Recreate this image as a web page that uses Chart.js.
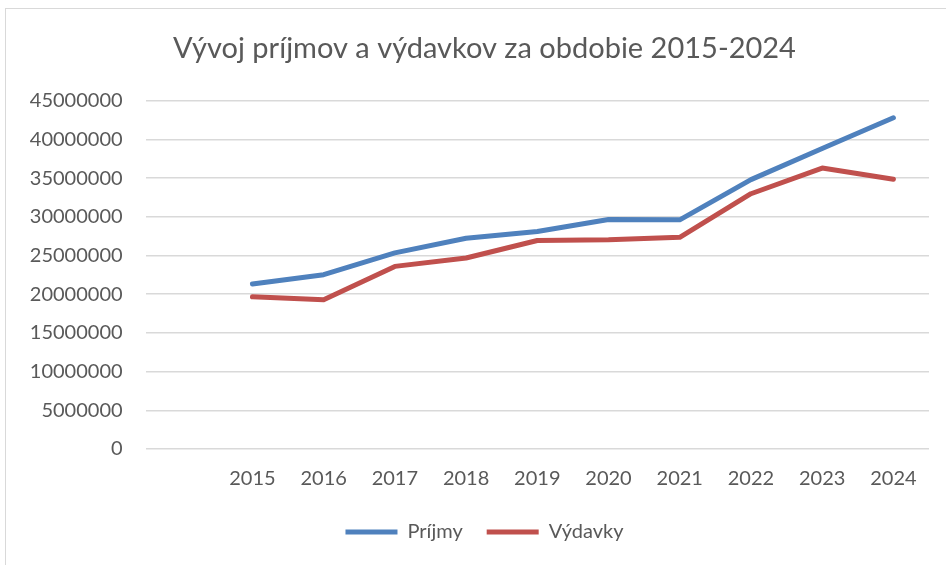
<!DOCTYPE html>
<html>
<head>
<meta charset="utf-8">
<script src="https://cdn.jsdelivr.net/npm/chart.js@4"></script>
<style>
  body { margin: 0; background: #fff; overflow: hidden; }
  #wrap { position: relative; width: 946px; height: 565px; overflow: hidden; }
  #frame { position: absolute; left: 5px; top: 8px; width: 980px; height: 600px; border: 1.5px solid #d9d9d9; }
  canvas { position: absolute; left: 0; top: 0; }
</style>
</head>
<body>
<div id="wrap">
  <div id="frame"></div>
  <canvas id="myChart" width="946" height="565"></canvas>
</div>
<script>
// roky (prvá kategória je prázdna ako v originálnom grafe)
const years = ['', '2015', '2016', '2017', '2018', '2019', '2020', '2021', '2022', '2023', '2024'];
const prijmy = [null, 21320000, 22530000, 25340000, 27230000, 28100000, 29660000, 29620000, 34810000, 38830000, 42800000];
const vydavky = [null, 19670000, 19280000, 23600000, 24690000, 26940000, 27030000, 27360000, 32990000, 36310000, 34850000];

const textColor = '#595959';
const fontFamily = 'Lato, "Open Sans", sans-serif';

// nadpis a legenda su v Exceli centrovane na celu plochu grafu, nie od lavej hrany
const centerBoxes = {
    id: 'centerBoxes',
    afterLayout: function (chart) {
        chart.titleBlock.left = 40;
        chart.legend.left = 40;
    }
};

var ctx = document.getElementById('myChart').getContext('2d');
var myChart = new Chart(ctx, {
    type: 'line',
    data: {
        labels: years,
        datasets: [{
            label: 'Príjmy',
            data: prijmy,
            borderColor: '#4f81bd',
            backgroundColor: '#4f81bd',
            borderWidth: 5,
            borderCapStyle: 'round',
            borderJoinStyle: 'round',
            pointRadius: 0,
            tension: 0
        }, {
            label: 'Výdavky',
            data: vydavky,
            borderColor: '#c0504d',
            backgroundColor: '#c0504d',
            borderWidth: 5,
            borderCapStyle: 'round',
            borderJoinStyle: 'round',
            pointRadius: 0,
            tension: 0
        }]
    },
    options: {
        responsive: false,
        animation: false,
        layout: {
            padding: { left: 0, right: 17, top: 31, bottom: 13 }
        },
        plugins: {
            title: {
                display: true,
                text: 'Vývoj príjmov a výdavkov za obdobie 2015-2024',
                color: textColor,
                font: { family: fontFamily, size: 29, weight: 'normal' },
                padding: { top: 0, bottom: 35 }
            },
            legend: {
                position: 'bottom',
                labels: {
                    color: textColor,
                    font: { family: fontFamily, size: 20 },
                    usePointStyle: true,
                    pointStyle: 'line',
                    pointStyleWidth: 52,
                    boxWidth: 42,
                    boxHeight: 20,
                    padding: 24
                }
            },
            tooltip: { enabled: false }
        },
        scales: {
            x: {
                offset: true,
                grid: { display: false },
                border: { display: false },
                ticks: {
                    color: textColor,
                    font: { family: fontFamily, size: 20 },
                    padding: 10,
                    autoSkip: false,
                    maxRotation: 0
                },
                afterFit: function (scale) {
                    scale.height = 49;
                }
            },
            y: {
                min: 0,
                max: 45000000,
                grid: { color: '#d9d9d9', lineWidth: 1.5, drawTicks: false },
                border: { display: false },
                ticks: {
                    stepSize: 5000000,
                    color: textColor,
                    font: { family: fontFamily, size: 20 },
                    padding: 23,
                    callback: function (value) { return String(value); }
                },
                afterFit: function (scale) {
                    scale.width = 145.6;
                }
            }
        }
    },
    plugins: [centerBoxes]
});
</script>
</body>
</html>
